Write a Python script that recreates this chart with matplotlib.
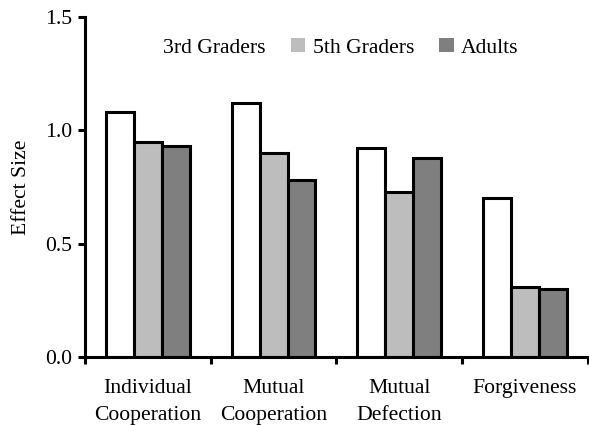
import numpy as np
import matplotlib.pyplot as plt
from matplotlib.patches import Patch

# 数据
categories = ["Individual\nCooperation", "Mutual\nCooperation", "Mutual\nDefection", "Forgiveness"]
groups = ["3rd Graders", "5th Graders", "Adults"]
third = [1.08, 1.12, 0.92, 0.70]
fifth = [0.95, 0.90, 0.73, 0.31]
adults = [0.93, 0.78, 0.88, 0.30]
colors = ["#ffffff", "#bdbdbd", "#7f7f7f"]

plt.rcParams['font.family'] = ['Liberation Serif', 'DejaVu Serif']
fs = 15.6

fig = plt.figure(figsize=(5.89, 4.25), dpi=100)
ax = fig.add_axes([0.1443, 0.16, 0.8537, 0.80])

x = np.arange(len(categories))
w = 0.222
for i, vals in enumerate([third, fifth, adults]):
    ax.bar(x + (i - 1) * w, vals, w, color=colors[i], edgecolor="black", linewidth=2.2)

ax.set_xlim(-0.5, len(categories) - 0.5)
ax.set_ylim(0, 1.5)
ax.set_yticks([0, 0.5, 1.0, 1.5])
ax.set_yticklabels(["0.0", "0.5", "1.0", "1.5"], fontsize=fs)
ax.set_ylabel("Effect Size", fontsize=fs, labelpad=10)

# 类别边界为主刻度, 类别名放在次刻度
ax.set_xticks(np.arange(len(categories) + 1) - 0.5)
ax.set_xticklabels([])
ax.set_xticks(x, minor=True)
ax.set_xticklabels(categories, minor=True, fontsize=fs, linespacing=1.58)
ax.tick_params(axis="x", which="minor", length=0, pad=16)
ax.tick_params(axis="both", which="major", direction="out", length=5, width=2.2)
ax.tick_params(axis="y", pad=4)

for s in ["top", "right"]:
    ax.spines[s].set_visible(False)
for s in ["left", "bottom"]:
    ax.spines[s].set_linewidth(2.2)

handles = [Patch(facecolor=c, edgecolor="none") for c in colors]
ax.legend(handles, groups, ncol=3, frameon=False, fontsize=fs,
          loc="center", bbox_to_anchor=(0.487, 0.91),
          handlelength=0.68, handleheight=0.68, handletextpad=0.33,
          columnspacing=1.15)

fig.savefig("out.png", dpi=100)
